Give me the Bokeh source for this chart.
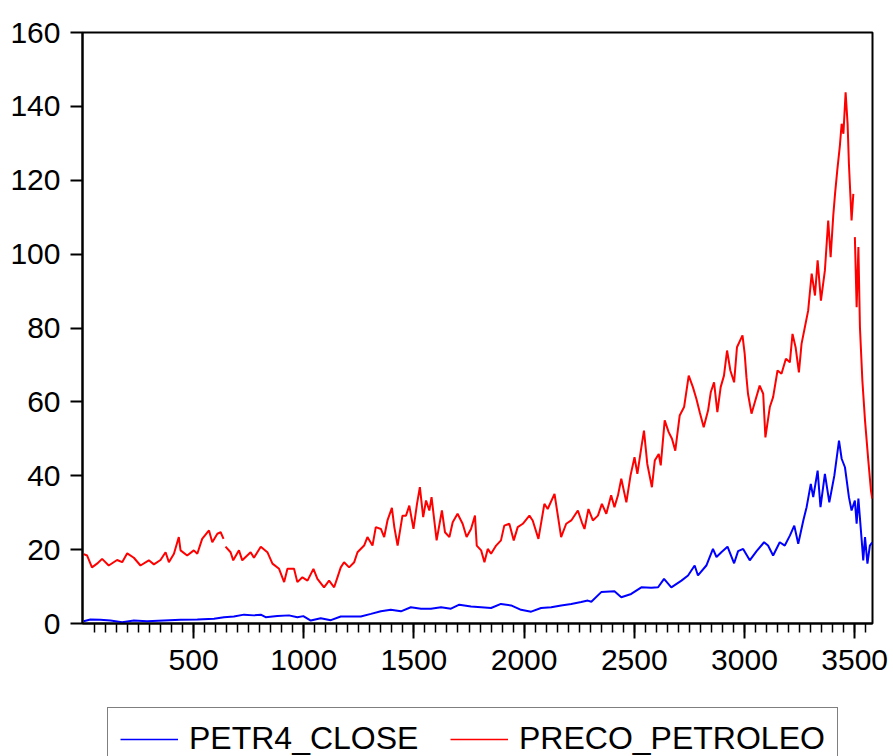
from bokeh.plotting import figure
from bokeh.layouts import column
from bokeh.models import (ColumnDataSource, Range1d, FixedTicker, SingleIntervalTicker,
                          Legend, LegendItem)
from bokeh.embed import file_html
from bokeh.resources import INLINE

NAN = float("nan")

# PRECO_PETROLEO (red), observation index and value; NaN marks a break in the series
oil_obs = [1, 17, 39, 62, 85, 115, 153, 176, 199, 229, 259, 297, 320, 350, 373, 388, 411, 433,
           441, 471, 501, 517, 539, 570, 585, 608, 623, 636, 640, 645, 668, 680, 706, 721, 759,
           774, 805, 835, 858, 888, 911, 926, 956, 971, 994, 1017, 1044, 1062, 1092, 1115, 1138,
           1153, 1168, 1183, 1206, 1229, 1244, 1274, 1289, 1312, 1327, 1350, 1365, 1380, 1400,
           1411, 1426, 1448, 1464, 1479, 1498, 1514, 1527, 1542, 1555, 1570, 1580, 1603, 1627,
           1641, 1661, 1676, 1698, 1721, 1739, 1759, 1777, 1785, 1805, 1820, 1835, 1850, 1873,
           1895, 1910, 1933, 1953, 1971, 1994, 2024, 2039, 2065, 2092, 2107, 2138, 2168, 2191,
           2214, 2244, 2262, 2274, 2292, 2312, 2335, 2353, 2373, 2395, 2410, 2426, 2441, 2464,
           2483, 2501, 2514, 2532, 2544, 2559, 2580, 2593, 2611, 2620, 2638, 2656, 2671, 2686,
           2706, 2726, 2747, 2766, 2782, 2797, 2815, 2835, 2847, 2862, 2877, 2892, 2907, 2921,
           2936, 2953, 2966, 2991, 3001, 3009, 3016, 3032, 3047, 3069, 3085, 3095, 3115, 3130,
           3150, 3168, 3188, 3206, 3218, 3232, 3247, 3259, 3274, 3289, 3305, 3320, 3332, 3347,
           3365, 3380, 3391, 3403, 3411, 3421, 3433, 3441, 3449, 3459, 3468, 3474, 3486, 3494,
           3497, 3501, 3509, 3517, 3524, 3535, 3547, 3562, 3574, 3580]
oil_val = [18.8, 18.4, 15.2, 16.2, 17.5, 15.7, 17.2, 16.6, 19.0, 17.8, 15.7, 17.1, 16.0, 17.2,
           19.3, 16.6, 18.9, 23.4, 19.8, 18.4, 19.8, 18.9, 22.9, 25.2, 22.0, 24.3, 24.7, 22.9,
           NAN, 20.8, 19.3, 17.1, 19.8, 17.1, 19.3, 17.8, 20.8, 19.3, 16.2, 14.8, 11.2, 14.8,
           14.8, 11.2, 12.5, 11.6, 14.8, 12.1, 9.8, 11.6, 9.8, 12.5, 15.2, 16.6, 15.2, 16.6,
           19.3, 21.1, 23.4, 21.1, 26.1, 25.6, 23.4, 27.9, 31.3, 26.1, 21.1, 29.2, 29.2, 31.9,
           25.6, 32.4, 36.9, 28.8, 33.3, 30.6, 34.2, 22.5, 30.6, 24.7, 23.4, 27.4, 29.7, 27.0,
           23.4, 25.6, 29.2, 21.1, 19.8, 16.6, 20.2, 18.9, 21.1, 22.5, 26.5, 27.0, 22.5, 26.1,
           27.0, 29.2, 27.9, 22.9, 32.4, 31.0, 35.1, 23.4, 27.0, 27.9, 30.6, 27.4, 25.6, 31.0,
           27.9, 29.2, 32.4, 29.7, 34.7, 31.5, 34.7, 39.2, 32.8, 40.1, 45.0, 40.5, 47.7, 52.2,
           43.2, 36.9, 44.1, 45.9, 42.8, 55.0, 51.8, 50.0, 46.8, 56.3, 58.6, 67.1, 64.0, 60.8,
           57.2, 53.1, 57.7, 62.6, 65.3, 57.2, 64.0, 67.1, 73.9, 68.5, 65.3, 74.8, 78.0, 73.0,
           66.7, 62.2, 56.8, 59.9, 64.4, 62.2, 50.4, 58.6, 61.3, 68.5, 67.6, 71.7, 70.7, 78.4,
           74.8, 68.0, 75.7, 80.2, 84.7, 94.7, 88.8, 98.3, 87.4, 95.6, 109.1, 99.2, 110.5, 116.3,
           122.6, 129.4, 135.3, 132.6, 143.8, 135.3, 124.4, 109.1, 116.3, NAN, 104.6, 85.6,
           101.9, 80.2, 65.8, 55.0, 44.1, 36.0, 33.8]

# PETR4_CLOSE (blue)
petr_obs = [1, 32, 77, 123, 176, 229, 289, 365, 441, 517, 593, 638, 683, 729, 774, 805, 827,
            880, 933, 971, 998, 1032, 1077, 1123, 1168, 1214, 1259, 1305, 1350, 1395, 1441,
            1486, 1532, 1577, 1623, 1668, 1706, 1759, 1805, 1850, 1895, 1941, 1986, 2032, 2077,
            2123, 2168, 2214, 2259, 2289, 2305, 2350, 2410, 2441, 2486, 2532, 2577, 2608, 2635,
            2668, 2714, 2744, 2774, 2789, 2827, 2857, 2873, 2895, 2923, 2953, 2971, 2994, 3024,
            3055, 3089, 3107, 3130, 3160, 3183, 3206, 3226, 3244, 3267, 3282, 3301, 3312, 3332,
            3345, 3365, 3385, 3408, 3429, 3441, 3456, 3474, 3486, 3501, 3509, 3517, 3532, 3539,
            3547, 3558, 3569, 3580]
petr_val = [0.6, 1.1, 1.0, 0.8, 0.35, 0.8, 0.6, 0.8, 1.0, 1.1, 1.3, 1.7, 1.9, 2.4, 2.2, 2.4,
            1.7, 2.0, 2.2, 1.7, 2.0, 0.8, 1.4, 0.9, 1.9, 1.9, 1.9, 2.6, 3.3, 3.7, 3.3, 4.4, 4.0,
            4.0, 4.4, 4.0, 5.1, 4.6, 4.4, 4.2, 5.3, 4.9, 3.7, 3.2, 4.2, 4.4, 4.9, 5.3, 5.8, 6.2,
            5.9, 8.5, 8.7, 7.1, 8.0, 9.8, 9.7, 9.8, 12.1, 9.8, 11.6, 13.0, 15.7, 13.0, 15.7, 20.2,
            18.0, 19.3, 20.8, 16.3, 19.6, 20.2, 17.1, 19.6, 22.0, 21.1, 18.4, 22.0, 21.1, 23.8,
            26.5, 21.6, 27.9, 31.5, 37.8, 34.2, 41.4, 31.5, 40.5, 32.8, 40.1, 49.5, 44.6, 42.3,
            34.2, 30.6, 33.3, 27.0, 33.8, 22.5, 17.1, 23.4, 16.2, 21.1, 22.0]

series_names = ["PETR4_CLOSE", "PRECO_PETROLEO"]
series_colors = ["#0000FF", "#FF0000"]

x_major = [500, 1000, 1500, 2000, 2500, 3000, 3500]
x_minor = list(range(50, 3551, 50))

FONT = "Liberation Sans"
W = 893

p = figure(width=W, height=690, output_backend="svg", toolbar_location=None,
           x_range=Range1d(-4, 3581), y_range=Range1d(0, 160),
           min_border_left=82, min_border_right=21, min_border_top=32, min_border_bottom=67)
p.background_fill_color = "white"
p.border_fill_color = "white"
p.grid.visible = False
p.outline_line_color = "black"
p.outline_line_width = 2

src_petr = ColumnDataSource(dict(x=petr_obs, y=petr_val))
src_oil = ColumnDataSource(dict(x=oil_obs, y=oil_val))
p.line("x", "y", source=src_petr, line_color=series_colors[0], line_width=2)
p.line("x", "y", source=src_oil, line_color=series_colors[1], line_width=2)

xa = p.xaxis[0]
xa.ticker = FixedTicker(ticks=x_major, minor_ticks=x_minor)
xa.major_tick_out = 15
xa.major_tick_in = 0
xa.minor_tick_out = 9
xa.minor_tick_in = 0
xa.major_label_standoff = 11
ya = p.yaxis[0]
ya.ticker = SingleIntervalTicker(interval=20, num_minor_ticks=0)
ya.major_tick_out = 12
ya.major_tick_in = 0
ya.minor_tick_out = 0
ya.major_label_standoff = 10
for ax in (xa, ya):
    ax.axis_line_color = "black"
    ax.axis_line_width = 2
    ax.major_tick_line_color = "black"
    ax.major_tick_line_width = 2
    ax.minor_tick_line_color = "black"
    ax.minor_tick_line_width = 1.5
    ax.major_label_text_font = FONT
    ax.major_label_text_font_size = "30px"
    ax.major_label_text_color = "black"

# legend strip below the chart (the box runs past the bottom edge, as in the reference)
lg = figure(width=W, height=66, output_backend="svg", toolbar_location=None,
            x_range=Range1d(0, 1), y_range=Range1d(0, 1),
            min_border_left=0, min_border_right=0, min_border_top=0, min_border_bottom=0)
lg.axis.visible = False
lg.grid.visible = False
lg.outline_line_color = None
lg.background_fill_color = "white"
lg.border_fill_color = "white"
items = []
for name, col in zip(series_names, series_colors):
    r = lg.line(x=[NAN], y=[NAN], line_color=col, line_width=1.5)
    items.append(LegendItem(label=name, renderers=[r]))

legend = Legend(items=items, orientation="horizontal", location=(25, -14))
legend.label_text_font = FONT
legend.label_text_font_size = "32px"
legend.label_text_color = "black"
legend.glyph_width = 58
legend.glyph_height = 20
legend.label_standoff = 11
legend.label_width = 261
legend.spacing = 0
legend.padding = 12
legend.margin = 0
legend.border_line_color = "black"
legend.border_line_width = 1.5
legend.background_fill_color = "white"
legend.background_fill_alpha = 1.0
lg.add_layout(legend)

layout = column(p, lg, spacing=0)
open("out.html", "w").write(file_html(layout, INLINE))
